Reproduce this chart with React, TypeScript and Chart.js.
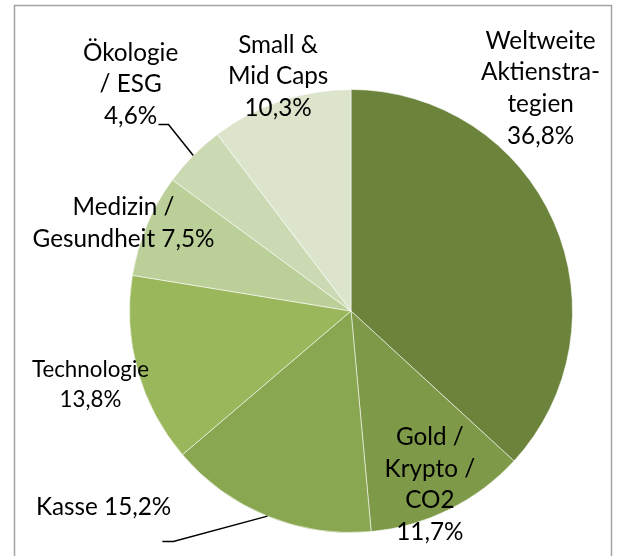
import React, { useEffect, useRef } from "react";
import { Chart, registerables } from "chart.js";

Chart.register(...registerables);

// ---- data ----
const categories = [
  "Weltweite Aktienstrategien",
  "Gold / Krypto / CO2",
  "Kasse",
  "Technologie",
  "Medizin / Gesundheit",
  "Ökologie / ESG",
  "Small & Mid Caps",
];
const shares = [36.8, 11.7, 15.2, 13.8, 7.5, 4.6, 10.3];
const labelNameLines = [
  ["Weltweite", "Aktienstra-", "tegien"],
  ["Gold /", "Krypto /", "CO2"],
  ["Kasse"],
  ["Technologie"],
  ["Medizin /", "Gesundheit"],
  ["Ökologie", "/ ESG"],
  ["Small &", "Mid Caps"],
];
const percentOnSameLine = [false, false, true, false, true, false, false];

// ---- styling ----
const sliceColors = ["#6c833c", "#7e9a48", "#89a651", "#9ab75b", "#bbcf98", "#cbdab2", "#dce5cc"];
// label block centre, relative to pie centre in units of the radius
const labelPlacement = [
  [0.856, -1.005],
  [0.356, 0.784],
  [-1.117, 0.887],
  [-1.176, 0.333],
  [-1.027, -0.396],
  [-0.995, -1.023],
  [-0.329, -1.059],
];
const labelScale = [1, 1, 1, 0.92, 1, 1, 1];
// leader lines: elbow point (relative to radius) and horizontal tail length (px)
const leaders: Record<number, { elbow: [number, number]; tail: number }> = {
  2: { elbow: [-0.802, 1.041], tail: 11 },
  5: { elbow: [-0.824, -0.842], tail: 10 },
};

const FONT_FAMILY = "Lato, 'Open Sans', sans-serif";
const LINE_HEIGHT = 31.7;

function fmtPct(v: number) {
  return v.toFixed(1).replace(".", ",") + "%";
}

const labelPlugin = {
  id: "pieLabels",
  beforeDraw(chart: any) {
    const ctx = chart.ctx as CanvasRenderingContext2D;
    ctx.save();
    ctx.strokeStyle = "#a3a3a3";
    ctx.lineWidth = 1.5;
    ctx.beginPath();
    ctx.moveTo(14.5, chart.height + 5);
    ctx.lineTo(14.5, 5.5);
    ctx.lineTo(611.5, 5.5);
    ctx.lineTo(611.5, chart.height + 5);
    ctx.stroke();
    ctx.restore();
  },
  afterDraw(chart: any) {
    const ctx = chart.ctx as CanvasRenderingContext2D;
    const meta = chart.getDatasetMeta(0);
    const arc0 = meta.data[0];
    const cx = arc0.x;
    const cy = arc0.y;
    const r = arc0.outerRadius;

    // calibrate font size so text widths match the reference (Calibri 20pt)
    ctx.save();
    ctx.font = `100px ${FONT_FAMILY}`;
    const refW = ctx.measureText("Gesundheit 7,5%").width;
    const baseSize = (182 / refW) * 100;
    ctx.restore();

    ctx.save();
    ctx.fillStyle = "#000";
    ctx.textAlign = "center";
    ctx.textBaseline = "middle";
    meta.data.forEach((arc: any, i: number) => {
      const lines = labelNameLines[i].slice();
      const pct = fmtPct(shares[i]);
      if (percentOnSameLine[i]) lines[lines.length - 1] = lines[lines.length - 1] + " " + pct;
      else lines.push(pct);
      const size = baseSize * labelScale[i];
      const lh = LINE_HEIGHT * (labelScale[i] < 1 ? 0.95 : 1);
      ctx.font = `${size}px ${FONT_FAMILY}`;
      const bx = cx + labelPlacement[i][0] * r;
      const by = cy + labelPlacement[i][1] * r;
      const top = by - ((lines.length - 1) * lh) / 2;
      lines.forEach((t, k) => ctx.fillText(t, bx, top + k * lh));

      const ld = leaders[i];
      if (ld) {
        const mid = (arc.startAngle + arc.endAngle) / 2;
        const ex = cx + Math.cos(mid) * r;
        const ey = cy + Math.sin(mid) * r;
        const kx = cx + ld.elbow[0] * r;
        const ky = cy + ld.elbow[1] * r;
        ctx.strokeStyle = "#000";
        ctx.lineWidth = 1.5;
        ctx.beginPath();
        ctx.moveTo(ex, ey);
        ctx.lineTo(kx, ky);
        ctx.lineTo(kx - ld.tail, ky);
        ctx.stroke();
      }
    });
    ctx.restore();
  },
};

export default function App() {
  const ref = useRef<HTMLCanvasElement>(null);
  useEffect(() => {
    if (!ref.current) return;
    const chart = new Chart(ref.current, {
      type: "pie",
      data: {
        labels: categories,
        datasets: [
          {
            data: shares,
            backgroundColor: sliceColors,
            borderColor: "rgba(255,255,255,0.55)",
            borderWidth: 1,
          },
        ],
      },
      options: {
        animation: false,
        responsive: false,
        events: [],
        layout: { padding: { left: 129, right: 44, top: 89, bottom: 23 } },
        plugins: {
          legend: { display: false },
          tooltip: { enabled: false },
        },
      },
      plugins: [labelPlugin],
    });
    return () => chart.destroy();
  }, []);
  return (
    <div style={{ position: "absolute", left: 0, top: 0, width: 617, height: 556, background: "#fff" }}>
      <canvas ref={ref} width={617} height={556} style={{ display: "block" }} />
    </div>
  );
}
